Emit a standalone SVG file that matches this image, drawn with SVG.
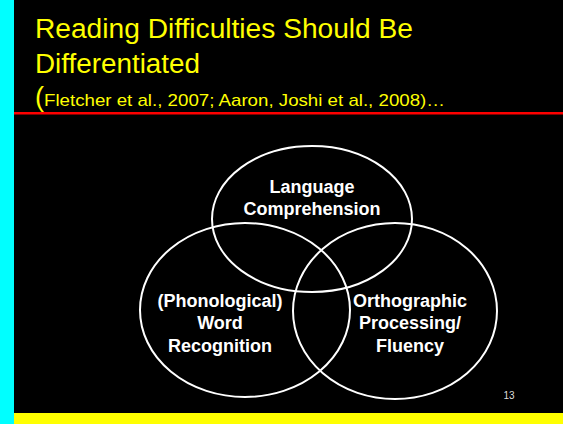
<svg xmlns="http://www.w3.org/2000/svg" width="563" height="424" viewBox="0 0 563 424">
  <style>
    .title { font-family: "Liberation Sans", Arial, sans-serif; fill: #ffff00; font-size: 27px; }
    .cite { font-family: "Liberation Sans", Arial, sans-serif; fill: #ffff00; font-size: 17px; }
    .ring { fill: none; stroke: #ffffff; stroke-width: 2; }
    .label { font-family: "Liberation Sans", Arial, sans-serif; fill: #ffffff; font-size: 18px; font-weight: bold; text-anchor: middle; }
    .pageno { font-family: "Liberation Sans", Arial, sans-serif; fill: #dddddd; font-size: 10px; text-anchor: middle; }
  </style>
  <!-- slide background and frame bars -->
  <rect x="0" y="0" width="563" height="424" fill="#000000"/>
  <rect x="0" y="0" width="14" height="424" fill="#00ffff"/>
  <rect x="14" y="413" width="549" height="11" fill="#ffff00"/>
  <rect x="14" y="112" width="549" height="2.5" fill="#ff0000"/>

  <!-- heading -->
  <text class="title" x="35" y="38" textLength="378" lengthAdjust="spacingAndGlyphs">Reading Difficulties Should Be</text>
  <text class="title" x="35" y="73" textLength="165" lengthAdjust="spacingAndGlyphs">Differentiated</text>
  <text class="title" x="35" y="106">(</text>
  <text class="cite" x="44" y="106" textLength="401" lengthAdjust="spacingAndGlyphs">Fletcher et al., 2007; Aaron, Joshi et al., 2008)…</text>

  <!-- Venn circles -->
  <g id="language">
    <ellipse class="ring" cx="312" cy="219" rx="100" ry="73"/>
    <text class="label" x="312" y="193">Language</text>
    <text class="label" x="312" y="215">Comprehension</text>
  </g>
  <g id="word-recognition">
    <ellipse class="ring" cx="245" cy="310" rx="105" ry="87"/>
    <text class="label" x="220" y="307">(Phonological)</text>
    <text class="label" x="220" y="329">Word</text>
    <text class="label" x="220" y="352">Recognition</text>
  </g>
  <g id="orthographic">
    <ellipse class="ring" cx="395" cy="311" rx="102" ry="88"/>
    <text class="label" x="410" y="307">Orthographic</text>
    <text class="label" x="410" y="329">Processing/</text>
    <text class="label" x="410" y="352">Fluency</text>
  </g>
  <g id="connectors"></g>

  <text class="pageno" x="509" y="399">13</text>
</svg>
